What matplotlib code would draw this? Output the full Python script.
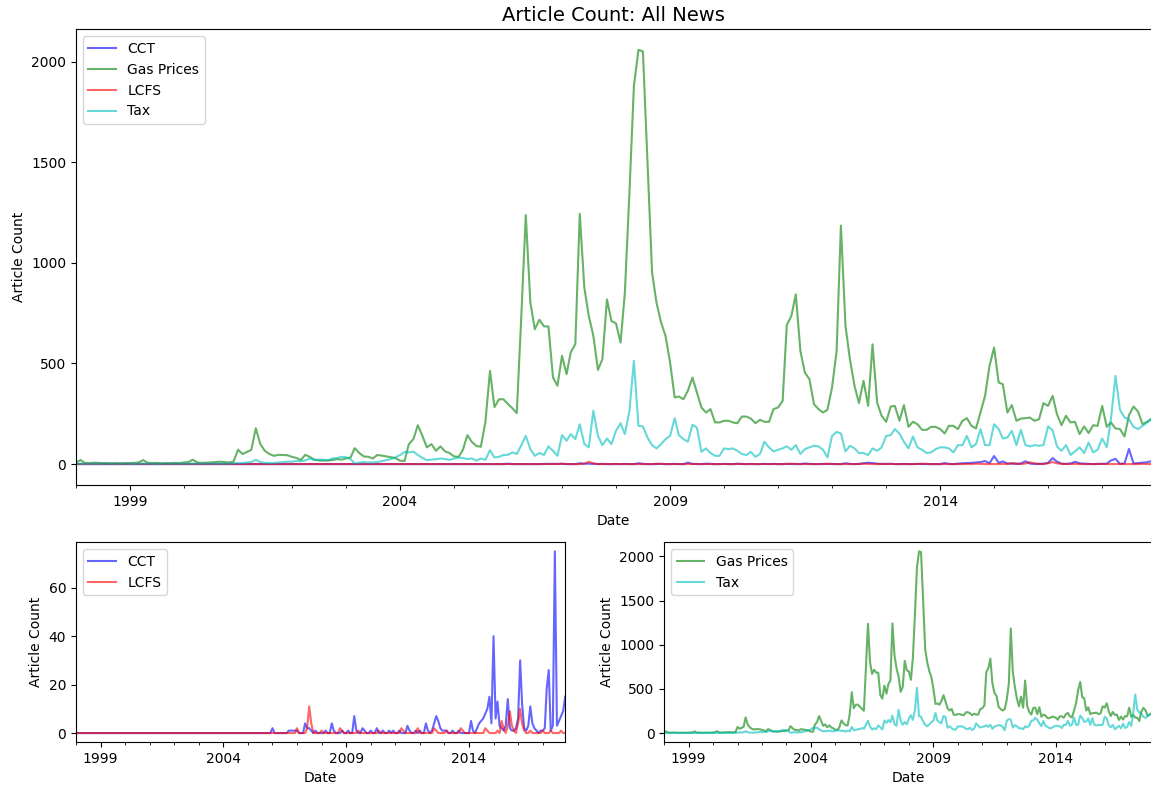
import matplotlib
matplotlib.use("Agg")
import matplotlib.pyplot as plt
import matplotlib.dates as mdates
import matplotlib.ticker as mticker
import pandas as pd

# monthly article counts, Jan 1998 - Dec 2017 (one year per row)
start_month = "1998-01-01"

cct = [
    0, 0, 0, 0, 0, 0, 0, 0, 0, 0, 0, 0,
    0, 0, 0, 0, 0, 0, 0, 0, 0, 0, 0, 0,
    0, 0, 0, 0, 0, 0, 0, 0, 0, 0, 0, 0,
    0, 0, 0, 0, 0, 0, 0, 0, 0, 0, 0, 0,
    0, 0, 0, 0, 0, 0, 0, 0, 0, 0, 0, 0,
    0, 0, 0, 0, 0, 0, 0, 0, 0, 0, 0, 0,
    0, 0, 0, 0, 0, 0, 0, 0, 0, 0, 0, 0,
    0, 0, 0, 0, 0, 0, 0, 0, 0, 0, 0, 0,
    2, 0, 0, 0, 0, 0, 0, 0, 1, 1, 1, 1,
    1, 0, 0, 0, 4, 2, 2, 1, 0, 1, 0, 0,
    0, 0, 1, 0, 0, 4, 1, 0, 0, 0, 1, 0,
    0, 1, 0, 0, 7, 1, 0, 0, 2, 1, 0, 0,
    1, 0, 0, 2, 0, 0, 1, 0, 0, 1, 0, 1,
    0, 0, 1, 0, 0, 0, 3, 1, 0, 0, 1, 0,
    1, 0, 0, 4, 1, 0, 1, 4, 7, 5, 2, 1,
    1, 1, 0, 0, 1, 0, 0, 1, 0, 0, 0, 0,
    0, 5, 1, 0, 2, 4, 5, 6, 8, 10, 15, 4,
    40, 6, 13, 3, 2, 1, 3, 14, 2, 1, 1, 2,
    6, 30, 12, 2, 1, 3, 11, 4, 2, 1, 0, 1,
    1, 2, 18, 26, 1, 3, 75, 3, 5, 7, 9, 15,
]

gas_prices = [
    8, 20, 6, 5, 7, 6, 5, 5, 4, 5, 4, 5,
    5, 6, 8, 20, 6, 5, 6, 4, 5, 5, 6, 5,
    8, 10, 22, 8, 6, 7, 8, 10, 12, 10, 8, 12,
    71, 50, 60, 71, 178, 99, 66, 50, 41, 46, 45, 44,
    36, 30, 20, 46, 36, 22, 18, 17, 18, 20, 25, 22,
    28, 33, 79, 55, 38, 36, 28, 45, 42, 38, 34, 30,
    17, 15, 99, 124, 193, 140, 83, 99, 66, 88, 63, 55,
    38, 36, 69, 144, 110, 90, 86, 210, 463, 283, 322, 322,
    298, 276, 253, 740, 1237, 802, 670, 717, 684, 684, 431, 389,
    538, 447, 555, 596, 1243, 876, 736, 637, 468, 521, 818, 711,
    699, 604, 851, 1350, 1877, 2058, 2050, 1500, 951, 802, 703, 637,
    504, 331, 336, 322, 364, 430, 356, 281, 256, 273, 207, 207,
    215, 215, 207, 203, 236, 236, 226, 203, 220, 210, 210, 273,
    281, 314, 690, 736, 843, 562, 455, 422, 298, 273, 256, 270,
    380, 562, 1185, 686, 521, 389, 303, 414, 289, 595, 306, 240,
    210, 286, 289, 215, 293, 185, 210, 198, 170, 170, 185, 185,
    174, 152, 190, 190, 174, 215, 228, 190, 177, 256, 339, 488,
    579, 405, 397, 256, 293, 215, 226, 228, 231, 215, 223, 303,
    289, 339, 248, 193, 240, 207, 210, 149, 187, 154, 193, 190,
    289, 185, 207, 177, 174, 137, 243, 286, 260, 198, 210, 226,
]

lcfs = [
    0, 0, 0, 0, 0, 0, 0, 0, 0, 0, 0, 0,
    0, 0, 0, 0, 0, 0, 0, 0, 0, 0, 0, 0,
    0, 0, 0, 0, 0, 0, 0, 0, 0, 0, 0, 0,
    0, 0, 0, 0, 0, 0, 0, 0, 0, 0, 0, 0,
    0, 0, 0, 0, 0, 0, 0, 0, 0, 0, 0, 0,
    0, 0, 0, 0, 0, 0, 0, 0, 0, 0, 0, 0,
    0, 0, 0, 0, 0, 0, 0, 0, 0, 0, 0, 0,
    0, 0, 0, 0, 0, 0, 0, 0, 0, 0, 0, 0,
    0, 0, 0, 0, 0, 0, 0, 0, 0, 0, 0, 0,
    2, 0, 0, 0, 0, 2, 11, 4, 0, 0, 0, 0,
    1, 0, 0, 0, 0, 0, 0, 0, 0, 2, 1, 0,
    0, 0, 0, 0, 0, 0, 1, 0, 0, 0, 0, 0,
    0, 0, 0, 0, 1, 0, 0, 0, 0, 0, 0, 0,
    0, 0, 0, 2, 1, 0, 0, 0, 0, 0, 0, 2,
    0, 0, 0, 0, 0, 0, 0, 2, 1, 0, 0, 0,
    0, 1, 0, 0, 0, 0, 0, 0, 2, 1, 0, 0,
    0, 0, 0, 0, 0, 0, 0, 0, 2, 1, 0, 0,
    0, 0, 1, 0, 5, 2, 0, 3, 9, 3, 1, 0,
    4, 10, 4, 1, 0, 0, 1, 0, 0, 0, 0, 0,
    1, 0, 0, 0, 1, 0, 0, 0, 0, 1, 0, 0,
]

tax = [
    2, 2, 1, 2, 2, 1, 2, 2, 1, 2, 2, 2,
    2, 1, 2, 3, 2, 2, 1, 2, 2, 2, 3, 2,
    3, 2, 3, 2, 3, 3, 2, 3, 3, 2, 3, 4,
    5, 5, 8, 10, 21, 10, 6, 5, 5, 8, 10, 12,
    12, 15, 14, 18, 28, 20, 22, 22, 18, 28, 30, 36,
    34, 25, 3, 8, 10, 8, 8, 10, 15, 20, 25, 33,
    45, 60, 58, 62, 45, 30, 20, 22, 24, 28, 25, 21,
    27, 33, 30, 25, 28, 17, 28, 21, 69, 33, 36, 45,
    46, 58, 50, 94, 140, 74, 41, 55, 45, 88, 66, 41,
    144, 116, 149, 124, 198, 99, 83, 265, 140, 94, 127, 99,
    165, 203, 149, 265, 513, 190, 187, 132, 94, 78, 99, 124,
    140, 228, 144, 124, 111, 195, 182, 61, 78, 55, 41, 41,
    78, 74, 78, 66, 50, 45, 61, 36, 50, 111, 83, 63,
    71, 78, 88, 71, 94, 50, 74, 83, 91, 88, 71, 33,
    140, 160, 152, 63, 91, 78, 55, 55, 45, 78, 66, 83,
    140, 144, 174, 152, 111, 78, 137, 83, 71, 55, 58, 74,
    83, 83, 78, 58, 94, 94, 140, 83, 99, 174, 94, 94,
    198, 174, 127, 132, 165, 94, 170, 94, 88, 94, 91, 94,
    187, 168, 88, 66, 94, 45, 63, 83, 55, 107, 58, 71,
    127, 83, 223, 438, 270, 231, 223, 185, 174, 190, 207, 223,
]

major_years = [1999, 2004, 2009, 2014]

dates = pd.date_range(start_month, periods=len(gas_prices), freq="MS")

series = {
    "CCT": (cct, "b"),
    "Gas Prices": (gas_prices, "g"),
    "LCFS": (lcfs, "r"),
    "Tax": (tax, "c"),
}


def style_axis(ax):
    ax.set_xlim(dates[0], dates[-1])
    ax.xaxis.set_major_locator(mticker.FixedLocator(
        [mdates.date2num(pd.Timestamp(f"{y}-01-01")) for y in major_years]))
    ax.xaxis.set_major_formatter(mdates.DateFormatter("%Y"))
    ax.xaxis.set_minor_locator(mdates.YearLocator(1))
    ax.set_xlabel("Date")
    ax.set_ylabel("Article Count")
    ax.legend(loc="upper left")


fig = plt.figure(figsize=(11.51, 7.87), dpi=100)
ax_top = fig.add_axes([0.066, 0.384, 0.9345, 0.579])
ax_left = fig.add_axes([0.066, 0.057, 0.425, 0.254])
ax_right = fig.add_axes([0.577, 0.057, 0.4235, 0.254])

for name, (vals, col) in series.items():
    ax_top.plot(dates, vals, color=col, alpha=0.6, label=name)
for name in ["CCT", "LCFS"]:
    vals, col = series[name]
    ax_left.plot(dates, vals, color=col, alpha=0.6, label=name)
for name in ["Gas Prices", "Tax"]:
    vals, col = series[name]
    ax_right.plot(dates, vals, color=col, alpha=0.6, label=name)

ax_top.set_title("Article Count: All News", fontsize=14)
ax_top.yaxis.set_major_locator(mticker.MultipleLocator(500))
ax_left.yaxis.set_major_locator(mticker.MultipleLocator(20))
ax_right.yaxis.set_major_locator(mticker.MultipleLocator(500))

for ax in [ax_top, ax_left, ax_right]:
    style_axis(ax)

fig.savefig("out.png", dpi=100)
